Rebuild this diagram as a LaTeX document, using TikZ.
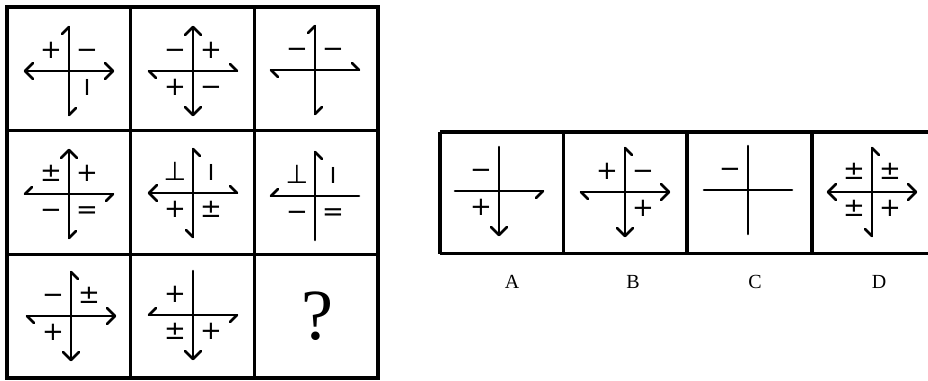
\documentclass[tikz,border=0pt]{standalone}
\usepackage{fontspec}
\setmainfont{Liberation Serif}
\newfontfamily\symfont{DejaVu Sans}
\tikzset{
  ln/.style={line width=2.6pt, line cap=round, line join=round},
  gridline/.style={line width=3.4pt},
  sym/.style={font=\symfont\fontsize{26}{26}\selectfont, inner sep=0pt, anchor=base},
  opt/.style={font=\fontsize{20}{20}\selectfont, inner sep=0pt, anchor=base},
}
\newcommand\barI{{\fontsize{22}{22}\selectfont I}}
% tips: top (Tp), bottom (Bt), left (Lf), right (Rt)
\newcommand\Tpn{}
\newcommand\Tpf{\draw[ln] (-8,-36)--(0,-44)--(8,-36);}
\newcommand\Tpw{\draw[ln] (0,-44)--(-7,-37);}
\newcommand\Tpe{\draw[ln] (0,-44)--(7,-37);}
\newcommand\Btn{}
\newcommand\Btf{\draw[ln] (-8,36)--(0,44)--(8,36);}
\newcommand\Btw{\draw[ln] (0,44)--(-7,37);}
\newcommand\Bte{\draw[ln] (0,44)--(7,37);}
\newcommand\Lfn{}
\newcommand\Lff{\draw[ln] (-36,-8)--(-44,0)--(-36,8);}
\newcommand\LfN{\draw[ln] (-44,0)--(-37,-7);}
\newcommand\LfS{\draw[ln] (-44,0)--(-37,7);}
\newcommand\Rtn{}
\newcommand\Rtf{\draw[ln] (36,-8)--(44,0)--(36,8);}
\newcommand\RtN{\draw[ln] (44,0)--(37,-7);}
\newcommand\RtS{\draw[ln] (44,0)--(37,7);}
\newcommand\crossat[6]{%
  \begin{scope}[shift={(#1,#2)}]
    \draw[ln] (0,-44)--(0,44);
    \draw[ln] (-44,0)--(44,0);
    \csname Tp#3\endcsname
    \csname Bt#4\endcsname
    \csname Lf#5\endcsname
    \csname Rt#6\endcsname
  \end{scope}}
\newcommand\onelab[4]{\if\relax\detokenize{#4}\relax\else\node[sym] (#1) at (#2,#3) {#4};\fi}
\newcommand\labs[7]{%
  \begin{scope}[shift={(#1,#2)}]
    \onelab{#7tl}{-18}{-13}{#3}
    \onelab{#7tr}{18}{-13}{#4}
    \onelab{#7bl}{-18}{24}{#5}
    \onelab{#7br}{18}{24}{#6}
  \end{scope}}
\begin{document}
\begin{tikzpicture}[x=1pt,y=-1pt]
\useasboundingbox (0,0) rectangle (928,380);
% left grid
\draw[gridline] (7,7) rectangle (378,378);
\draw[gridline] (130.7,7) -- (130.7,378);
\draw[gridline] (254.5,7) -- (254.5,378);
\draw[gridline] (7,130.7) -- (378,130.7);
\draw[gridline] (7,254.5) -- (378,254.5);
% row 1
\crossat{69}{71}{w}{e}{f}{f}
\labs{69}{71}{+}{−}{}{\barI}{ca}
\crossat{193}{71}{f}{f}{S}{N}
\labs{193}{71}{−}{+}{+}{−}{cb}
\crossat{315}{70}{w}{e}{S}{N}
\labs{315}{70}{−}{−}{}{}{cc}
% row 2
\crossat{69}{194}{f}{e}{N}{S}
\labs{69}{194}{±}{+}{−}{=}{cd}
\crossat{193}{193}{e}{w}{f}{N}
\labs{193}{193}{⊥}{\barI}{+}{±}{ce}
\crossat{315}{196}{e}{n}{N}{n}
\labs{315}{196}{⊥}{\barI}{−}{=}{cf}
% row 3
\crossat{71}{316}{e}{f}{S}{f}
\labs{71}{316}{−}{±}{+}{}{cg}
\crossat{193}{315}{n}{f}{N}{S}
\labs{193}{315}{+}{}{±}{+}{ch}
\node[font=\fontsize{72}{72}\selectfont, inner sep=0pt] (q) at (317,316) {?};
% options
\draw[gridline] (440,132) -- (932,132);
\draw[gridline] (440,253.5) -- (932,253.5);
\draw[gridline] (440,132) -- (440,253.5);
\draw[gridline] (563.3,132) -- (563.3,253.5);
\draw[gridline] (687,132) -- (687,253.5);
\draw[gridline] (812,132) -- (812,253.5);
\crossat{499}{191}{n}{f}{n}{S}
\labs{499}{191}{−}{}{+}{}{oa}
\crossat{625}{192}{e}{f}{S}{f}
\labs{625}{192}{+}{−}{}{+}{ob}
\crossat{748}{190}{n}{n}{n}{n}
\labs{748}{190}{−}{}{}{}{oc}
\crossat{872}{192}{e}{w}{f}{f}
\labs{872}{192}{±}{±}{±}{+}{od}
\node[opt] (la) at (512,288) {A};
\node[opt] (lb) at (633,288) {B};
\node[opt] (lc) at (755,288) {C};
\node[opt] (ld) at (879,288) {D};
\end{tikzpicture}
\end{document}
